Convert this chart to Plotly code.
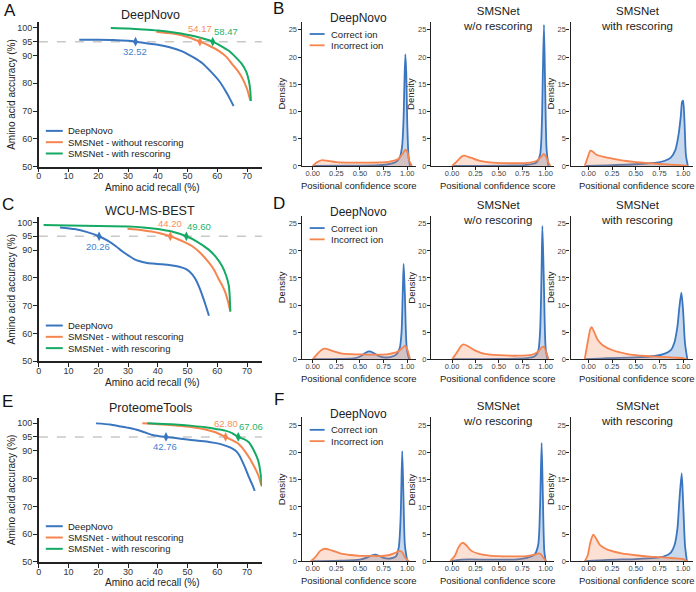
import plotly.graph_objects as go

W, H = 696, 592
def X(px): return px / W
def Y(py): return 1 - py / H

BLUE = "#3a76c0"; ORANGE = "#f5844f"; GREEN = "#14aa63"
BLUE_T = "#3f82cc"; ORANGE_T = "#f7915c"; GREEN_T = "#1db36d"
BLUE_F = "rgba(58,118,192,0.28)"; ORANGE_F = "rgba(245,132,79,0.25)"
FONT = "Liberation Sans, Arial, sans-serif"

# ---------------- data: left column (accuracy vs recall) ----------------
dataset_titles = ["DeepNovo", "WCU-MS-BEST", "ProteomeTools"]
series_names = ["DeepNovo", "SMSNet - without rescoring", "SMSNet - with rescoring"]

deepnovo_A_x = [13.6, 20, 25, 30, 32.52, 35, 40, 44, 48, 52, 55, 58, 60.5, 62.7, 64.3, 65.5]
deepnovo_A_y = [95.7, 95.7, 95.6, 95.3, 95.0, 94.6, 93.9, 93.0, 91.6, 89.3, 87.2, 84.0, 81.0, 77.4, 74.3, 71.8]
smsnet_wo_A_x = [39.5, 45, 50, 54.17, 57, 60.5, 63, 65, 67, 68.3, 70, 71.1]
smsnet_wo_A_y = [98.6, 97.9, 96.7, 95.0, 93.7, 91.7, 89.6, 86.9, 84.3, 82.1, 78.0, 73.8]
smsnet_w_A_x = [24.2, 30, 35, 40, 46, 52, 58.47, 61, 63.9, 66, 68.3, 69.8, 70.6, 71.1, 71.3]
smsnet_w_A_y = [99.9, 99.7, 99.4, 99.0, 98.2, 97.0, 95.0, 93.6, 91.7, 89.6, 86.9, 84.0, 81.0, 77.4, 73.6]
crossings_A = [32.52, 54.17, 58.47]

deepnovo_C_x = [7.1, 12, 16, 20.26, 23, 25.9, 28, 30.4, 32, 33.7, 36, 38.2, 41.5, 43.8, 46, 48.2, 49.8, 51.5, 52.7, 54, 55.2, 56.2, 57.2]
deepnovo_C_y = [98.2, 97.6, 96.6, 95.0, 93.5, 91.4, 89.6, 87.9, 86.8, 86.1, 85.5, 85.2, 84.9, 84.7, 84.3, 83.7, 83.0, 81.4, 79.5, 76.5, 73.0, 69.8, 66.4]
smsnet_wo_C_x = [29.8, 34.8, 40, 44.2, 48, 51.6, 54.5, 57.2, 59, 60.5, 61.7, 62.7, 63.6, 64.4]
smsnet_wo_C_y = [97.7, 97.2, 96.3, 95.0, 93.4, 91.4, 88.8, 85.5, 82.8, 79.5, 77.2, 74.8, 71.5, 67.9]
smsnet_w_C_x = [1.6, 10, 20, 30, 35, 40, 45, 49.6, 53, 57.1, 59.5, 61.6, 63, 63.9, 64.2, 64.4]
smsnet_w_C_y = [99.1, 98.9, 98.7, 98.5, 98.2, 97.6, 96.6, 95.0, 93.2, 90.2, 87.6, 84.3, 80.8, 77.1, 73.0, 67.9]
crossings_C = [20.26, 44.20, 49.60]

deepnovo_E_x = [19.2, 24, 27, 30, 32.6, 35.5, 38.2, 40.5, 42.76, 46, 49.3, 53, 57.2, 60.5, 62.7, 64.5, 66.1, 67.3, 68.3, 69.5, 70.6, 71.7, 72.6]
deepnovo_E_y = [99.9, 99.5, 98.9, 98.3, 97.7, 96.7, 95.7, 95.3, 95.0, 94.6, 94.2, 93.7, 93.2, 92.6, 91.9, 91.2, 90.1, 88.6, 86.5, 83.6, 80.6, 78.0, 75.6]
smsnet_wo_E_x = [34.8, 40, 46, 51.6, 56, 59.4, 62.8, 65, 67.2, 69, 70.6, 72, 73.3, 74.2, 74.8]
smsnet_wo_E_y = [99.9, 99.6, 99.1, 98.5, 97.7, 96.7, 95.0, 93.9, 92.5, 90.3, 87.8, 85.2, 82.4, 80.0, 77.6]
smsnet_w_E_x = [36.5, 42, 47, 51.6, 56, 60, 62.7, 65, 67.06, 69, 70.6, 72, 73.3, 74.0, 74.4, 74.8, 75]
smsnet_w_E_y = [99.9, 99.7, 99.4, 99.0, 98.5, 97.8, 97.3, 96.4, 95.0, 94.2, 93.1, 90.8, 87.8, 85.5, 83.0, 80.0, 77.2]
crossings_E = [42.76, 62.80, 67.06]

left_x_ticks = [0, 10, 20, 30, 40, 50, 60, 70]
left_y_ticks = [50, 60, 70, 80, 90, 95, 100]

# ---------------- data: right column (density of positional confidence) ----------------
tool_titles = ["DeepNovo", "SMSNet<br>w/o rescoring", "SMSNet<br>with rescoring"]
ion_names = ["Correct ion", "Incorrect ion"]

# row B
B1_correct_x = [0.0, 0.4, 0.7, 0.8, 0.88, 0.92, 0.945, 0.96, 0.97, 0.98, 0.99, 1.0, 1.015, 1.03]
B1_correct_y = [0, 0.05, 0.15, 0.3, 0.7, 1.5, 3.5, 8, 15, 20.5, 17, 8, 1.5, 0]
B1_incorrect_x = [0.0, 0.05, 0.1, 0.15, 0.25, 0.4, 0.6, 0.8, 0.9, 0.95, 0.98, 1.0, 1.02, 1.05]
B1_incorrect_y = [0, 0.7, 1.05, 0.95, 0.7, 0.6, 0.6, 0.75, 1.2, 2.2, 3.0, 2.6, 1.0, 0]
B2_correct_x = [0.0, 0.5, 0.8, 0.9, 0.94, 0.96, 0.97, 0.982, 0.995, 1.01, 1.03]
B2_correct_y = [0, 0.05, 0.2, 0.6, 2, 8, 17, 25.9, 14, 3, 0]
B2_incorrect_x = [0.0, 0.05, 0.1, 0.13, 0.2, 0.3, 0.4, 0.6, 0.8, 0.9, 0.95, 0.98, 1.0, 1.03, 1.05]
B2_incorrect_y = [0, 0.8, 1.7, 1.9, 1.5, 0.9, 0.65, 0.5, 0.55, 0.9, 1.6, 2.2, 1.8, 0.6, 0]
B3_correct_x = [-0.03, 0.2, 0.5, 0.7, 0.8, 0.87, 0.92, 0.95, 0.975, 0.99, 1.0, 1.015, 1.03, 1.05]
B3_correct_y = [0, 0.1, 0.3, 0.55, 0.9, 1.5, 3, 5.5, 9, 11.8, 12, 8, 2, 0]
B3_incorrect_x = [-0.04, -0.01, 0.02, 0.04, 0.08, 0.15, 0.25, 0.4, 0.5, 0.6, 0.75, 0.9, 1.0, 1.05]
B3_incorrect_y = [0, 1.5, 2.8, 2.7, 2.1, 1.7, 1.35, 0.9, 0.7, 0.55, 0.35, 0.2, 0.1, 0]

# row D
D1_correct_x = [0.0, 0.3, 0.45, 0.52, 0.56, 0.6, 0.64, 0.7, 0.75, 0.82, 0.88, 0.92, 0.94, 0.952, 0.962, 0.975, 0.995, 1.02]
D1_correct_y = [0, 0.05, 0.2, 0.7, 1.2, 1.45, 1.2, 0.6, 0.35, 0.4, 0.8, 2, 5, 12, 17.6, 12, 2, 0]
D1_incorrect_x = [0.0, 0.05, 0.1, 0.13, 0.2, 0.3, 0.4, 0.5, 0.6, 0.7, 0.8, 0.9, 0.95, 0.975, 1.0, 1.03]
D1_incorrect_y = [0, 1.0, 1.8, 1.95, 1.6, 1.1, 0.95, 0.9, 0.85, 0.85, 0.95, 1.4, 2.1, 2.5, 1.8, 0]
D2_correct_x = [0.0, 0.5, 0.8, 0.88, 0.92, 0.94, 0.955, 0.965, 0.98, 1.0, 1.02]
D2_correct_y = [0, 0.05, 0.2, 0.5, 1.5, 5, 15, 24.6, 15, 2, 0]
D2_incorrect_x = [0.0, 0.05, 0.1, 0.125, 0.17, 0.25, 0.35, 0.5, 0.7, 0.85, 0.92, 0.96, 0.98, 1.0, 1.03]
D2_incorrect_y = [0, 1.2, 2.5, 2.75, 2.4, 1.6, 1.0, 0.75, 0.65, 0.8, 1.4, 2.2, 2.3, 1.6, 0]
D3_correct_x = [-0.03, 0.2, 0.5, 0.7, 0.8, 0.87, 0.91, 0.94, 0.96, 0.982, 1.0, 1.02, 1.045]
D3_correct_y = [0, 0.2, 0.35, 0.6, 1.0, 1.7, 3.2, 6, 9.5, 12.3, 9, 3, 0]
D3_incorrect_x = [-0.04, -0.01, 0.02, 0.035, 0.06, 0.1, 0.15, 0.25, 0.4, 0.5, 0.6, 0.75, 0.9, 1.0, 1.04]
D3_incorrect_y = [0, 3, 5.6, 5.9, 5.0, 3.5, 2.6, 1.7, 1.0, 0.75, 0.6, 0.45, 0.3, 0.2, 0]

# row F
F1_correct_x = [-0.02, 0.3, 0.5, 0.58, 0.63, 0.66, 0.7, 0.76, 0.82, 0.88, 0.91, 0.93, 0.947, 0.96, 0.975, 1.0]
F1_correct_y = [0, 0.1, 0.3, 0.7, 1.1, 1.2, 1.0, 0.55, 0.5, 0.9, 2.5, 8, 20.3, 12, 3, 0]
F1_incorrect_x = [-0.02, 0.03, 0.08, 0.13, 0.2, 0.3, 0.4, 0.5, 0.6, 0.7, 0.8, 0.88, 0.92, 0.95, 0.98, 1.02]
F1_incorrect_y = [0, 0.8, 1.9, 2.3, 2.0, 1.4, 1.15, 1.0, 1.0, 0.95, 1.1, 1.6, 1.9, 1.6, 0.6, 0]
F2_correct_x = [-0.02, 0.1, 0.4, 0.7, 0.8, 0.88, 0.92, 0.94, 0.957, 0.97, 0.985, 1.0]
F2_correct_y = [0, 0.3, 0.3, 0.35, 0.6, 1.2, 3, 10, 21.8, 12, 2, 0]
F2_incorrect_x = [-0.02, 0.03, 0.07, 0.11, 0.15, 0.2, 0.3, 0.4, 0.5, 0.6, 0.7, 0.8, 0.88, 0.92, 0.95, 0.98, 1.01]
F2_incorrect_y = [0, 1.0, 2.6, 3.4, 3.0, 2.0, 1.3, 1.05, 0.95, 0.9, 0.9, 0.95, 1.2, 1.45, 1.3, 0.5, 0]
F3_correct_x = [-0.03, 0.2, 0.5, 0.7, 0.8, 0.87, 0.91, 0.94, 0.96, 0.985, 1.0, 1.02, 1.04]
F3_correct_y = [0, 0.25, 0.4, 0.6, 0.9, 1.6, 3.0, 6, 11, 16.2, 11, 3, 0]
F3_incorrect_x = [-0.04, -0.01, 0.02, 0.05, 0.08, 0.12, 0.18, 0.25, 0.35, 0.5, 0.65, 0.75, 0.9, 1.0, 1.04]
F3_incorrect_y = [0, 1.0, 3.5, 4.9, 4.2, 3.0, 2.3, 1.85, 1.45, 1.1, 0.85, 0.75, 0.55, 0.4, 0]

right_x_ticks = [0.0, 0.25, 0.5, 0.75, 1.0]
right_y_ticks = [0, 5, 10, 15, 20, 25]

# ---------------- layout geometry (pixels) ----------------
left_rows = [(22.4, 168.0), (218.7, 364.3), (421.1, 566.7)]
right_rows = [(21.8, 167.3), (217.5, 362.3), (421.0, 566.0)]
left_cols = (36, 260)
right_cols = [(300, 415), (430, 553), (570, 693)]
right_centers = [357.5, 497, 636.5]
right_xranges = [[-0.116, 1.095], [-0.223, 1.085], [-0.19, 1.105]]
left_title_y = [15, 213.3, 411.7]
left_letter_pos = [(7, 11), (5, 206.7), (5, 405)]
right_letter_pos = [(277, 8.5), (277, 205), (277, 403.3)]
letters_left = ["A", "C", "E"]
letters_right = ["B", "D", "F"]

left_data = [
    [(deepnovo_A_x, deepnovo_A_y), (smsnet_wo_A_x, smsnet_wo_A_y), (smsnet_w_A_x, smsnet_w_A_y), crossings_A],
    [(deepnovo_C_x, deepnovo_C_y), (smsnet_wo_C_x, smsnet_wo_C_y), (smsnet_w_C_x, smsnet_w_C_y), crossings_C],
    [(deepnovo_E_x, deepnovo_E_y), (smsnet_wo_E_x, smsnet_wo_E_y), (smsnet_w_E_x, smsnet_w_E_y), crossings_E],
]
right_data = [
    [(B1_correct_x, B1_correct_y, B1_incorrect_x, B1_incorrect_y),
     (B2_correct_x, B2_correct_y, B2_incorrect_x, B2_incorrect_y),
     (B3_correct_x, B3_correct_y, B3_incorrect_x, B3_incorrect_y)],
    [(D1_correct_x, D1_correct_y, D1_incorrect_x, D1_incorrect_y),
     (D2_correct_x, D2_correct_y, D2_incorrect_x, D2_incorrect_y),
     (D3_correct_x, D3_correct_y, D3_incorrect_x, D3_incorrect_y)],
    [(F1_correct_x, F1_correct_y, F1_incorrect_x, F1_incorrect_y),
     (F2_correct_x, F2_correct_y, F2_incorrect_x, F2_incorrect_y),
     (F3_correct_x, F3_correct_y, F3_incorrect_x, F3_incorrect_y)],
]

fig = go.Figure()
layout = {}
annotations = []
shapes = []

line_colors = [BLUE, ORANGE, GREEN]
text_colors = [BLUE_T, ORANGE_T, GREEN_T]
label_shifts = [(-1, -10), (0, 13), (13, 10)]

def ax_name(k, kind):
    return f"{kind}axis" if k == 1 else f"{kind}axis{k}"

def ref(k, kind):
    return kind if k == 1 else f"{kind}{k}"

def txt(px, py, text, size, color="#222", xanchor="center", angle=0):
    annotations.append(dict(x=X(px), y=Y(py), xref="paper", yref="paper", text=text, showarrow=False,
                            xanchor=xanchor, yanchor="middle", textangle=angle,
                            font=dict(family=FONT, size=size, color=color)))

common_axis = dict(showline=True, linecolor="#222", linewidth=1.6, showgrid=False,
                   zeroline=False, ticks="outside", tickcolor="#222", tickwidth=1.2,
                   fixedrange=True)

# ---- left panels ----
for r in range(3):
    k = r + 1
    top, bot = left_rows[r]
    xr, yr = ref(k, "x"), ref(k, "y")
    layout[ax_name(k, "x")] = dict(common_axis, domain=[X(left_cols[0]), X(left_cols[1])], anchor=yr,
                                   range=[0, 75], tickvals=left_x_ticks, ticklen=4, ticklabelstandoff=-4,
                                   tickfont=dict(family=FONT, size=9, color="#333"))
    layout[ax_name(k, "y")] = dict(common_axis, domain=[Y(bot), Y(top)], anchor=xr,
                                   range=[50, 102], tickvals=left_y_ticks, ticklen=4, ticklabelstandoff=-1,
                                   tickfont=dict(family=FONT, size=9, color="#333"))
    shapes.append(dict(type="line", xref=f"{xr} domain", yref=yr, x0=0, x1=1, y0=95, y1=95,
                       line=dict(color="#c8c8c8", width=1.5, dash="dash"), layer="below"))
    curves = left_data[r]
    for s in range(3):
        cx, cy = curves[s]
        fig.add_trace(go.Scatter(x=cx, y=cy, mode="lines", name=series_names[s],
                                 line=dict(color=line_colors[s], width=2, shape="spline", smoothing=0.6),
                                 xaxis=xr, yaxis=yr, showlegend=False))
    for s, v in enumerate(curves[3]):
        fig.add_trace(go.Scatter(x=[v], y=[95], mode="markers", name=series_names[s],
                                 marker=dict(symbol="diamond-tall", size=7, color=line_colors[s]),
                                 xaxis=xr, yaxis=yr, showlegend=False, hoverinfo="skip"))
        dx, dy = label_shifts[s]
        annotations.append(dict(x=v, y=95, xref=xr, yref=yr, text=f"{v:.2f}", showarrow=False,
                                xshift=dx, yshift=dy,
                                font=dict(family=FONT, size=9.5, color=text_colors[s])))
    txt((left_cols[0] + left_cols[1]) / 2, left_title_y[r], dataset_titles[r], 12.5)
    txt(150, bot + 21, "Amino acid recall (%)", 10)
    txt(8.5, (top + bot) / 2, "Amino acid accuracy (%)", 10, angle=-90)
    txt(left_letter_pos[r][0], left_letter_pos[r][1], letters_left[r], 17, color="#111")
    leg_y0 = bot - 36
    for s in range(3):
        yy = leg_y0 + s * 11.4
        shapes.append(dict(type="line", xref="paper", yref="paper", x0=X(43), x1=X(60),
                           y0=Y(yy), y1=Y(yy), line=dict(color=line_colors[s], width=2)))
        txt(63, yy, series_names[s], 9.5, xanchor="left")

# ---- right panels ----
ion_line = [BLUE, ORANGE]
ion_fill = [BLUE_F, ORANGE_F]
for r in range(3):
    top, bot = right_rows[r]
    for c in range(3):
        k = 4 + r * 3 + c
        xr, yr = ref(k, "x"), ref(k, "y")
        layout[ax_name(k, "x")] = dict(common_axis, domain=[X(right_cols[c][0]), X(right_cols[c][1])],
                                       anchor=yr, range=right_xranges[c], tickvals=right_x_ticks,
                                       tickformat=".2f", ticklen=3, linewidth=1.4, ticklabelstandoff=-3,
                                       tickfont=dict(family=FONT, size=7.5, color="#444"))
        layout[ax_name(k, "y")] = dict(common_axis, domain=[Y(bot), Y(top)], anchor=xr,
                                       range=[0, 26.5], tickvals=right_y_ticks, ticklen=3, linewidth=1.4,
                                       ticklabelstandoff=-1,
                                       tickfont=dict(family=FONT, size=7.5, color="#444"))
        cx, cy, ix, iy = right_data[r][c]
        for j, (px_, py_) in enumerate([(cx, cy), (ix, iy)]):
            fig.add_trace(go.Scatter(x=px_, y=py_, mode="lines", name=ion_names[j], fill="tozeroy",
                                     fillcolor=ion_fill[j],
                                     line=dict(color=ion_line[j], width=1.8, shape="spline", smoothing=0.7),
                                     xaxis=xr, yaxis=yr, showlegend=False))
        if "<br>" in tool_titles[c]:
            txt(right_centers[c], top - 3.5, tool_titles[c], 11.5)
        else:
            txt(right_centers[c], top - 3.5, tool_titles[c], 12)
        txt(right_centers[c], bot + 19.5, "Positional confidence score", 9.5)
        txt(right_cols[c][0] - 20, (top + bot) / 2, "Density", 9.5, angle=-90)
        if c == 0:
            for j in range(2):
                yy = top + 12.5 + j * 11.4
                shapes.append(dict(type="line", xref="paper", yref="paper", x0=X(308), x1=X(323),
                                   y0=Y(yy), y1=Y(yy), line=dict(color=ion_line[j], width=1.8)))
                txt(327, yy, ion_names[j], 9.5, xanchor="left")
    txt(right_letter_pos[r][0], right_letter_pos[r][1], letters_right[r], 17, color="#111")

fig.update_layout(width=W, height=H, margin=dict(l=0, r=0, t=0, b=0), paper_bgcolor="white",
                  plot_bgcolor="white", showlegend=False, annotations=annotations, shapes=shapes,
                  font=dict(family=FONT), **layout)

fig.write_html("out.html", config={"displayModeBar": False},
               post_script="document.body.style.margin='0px';")
